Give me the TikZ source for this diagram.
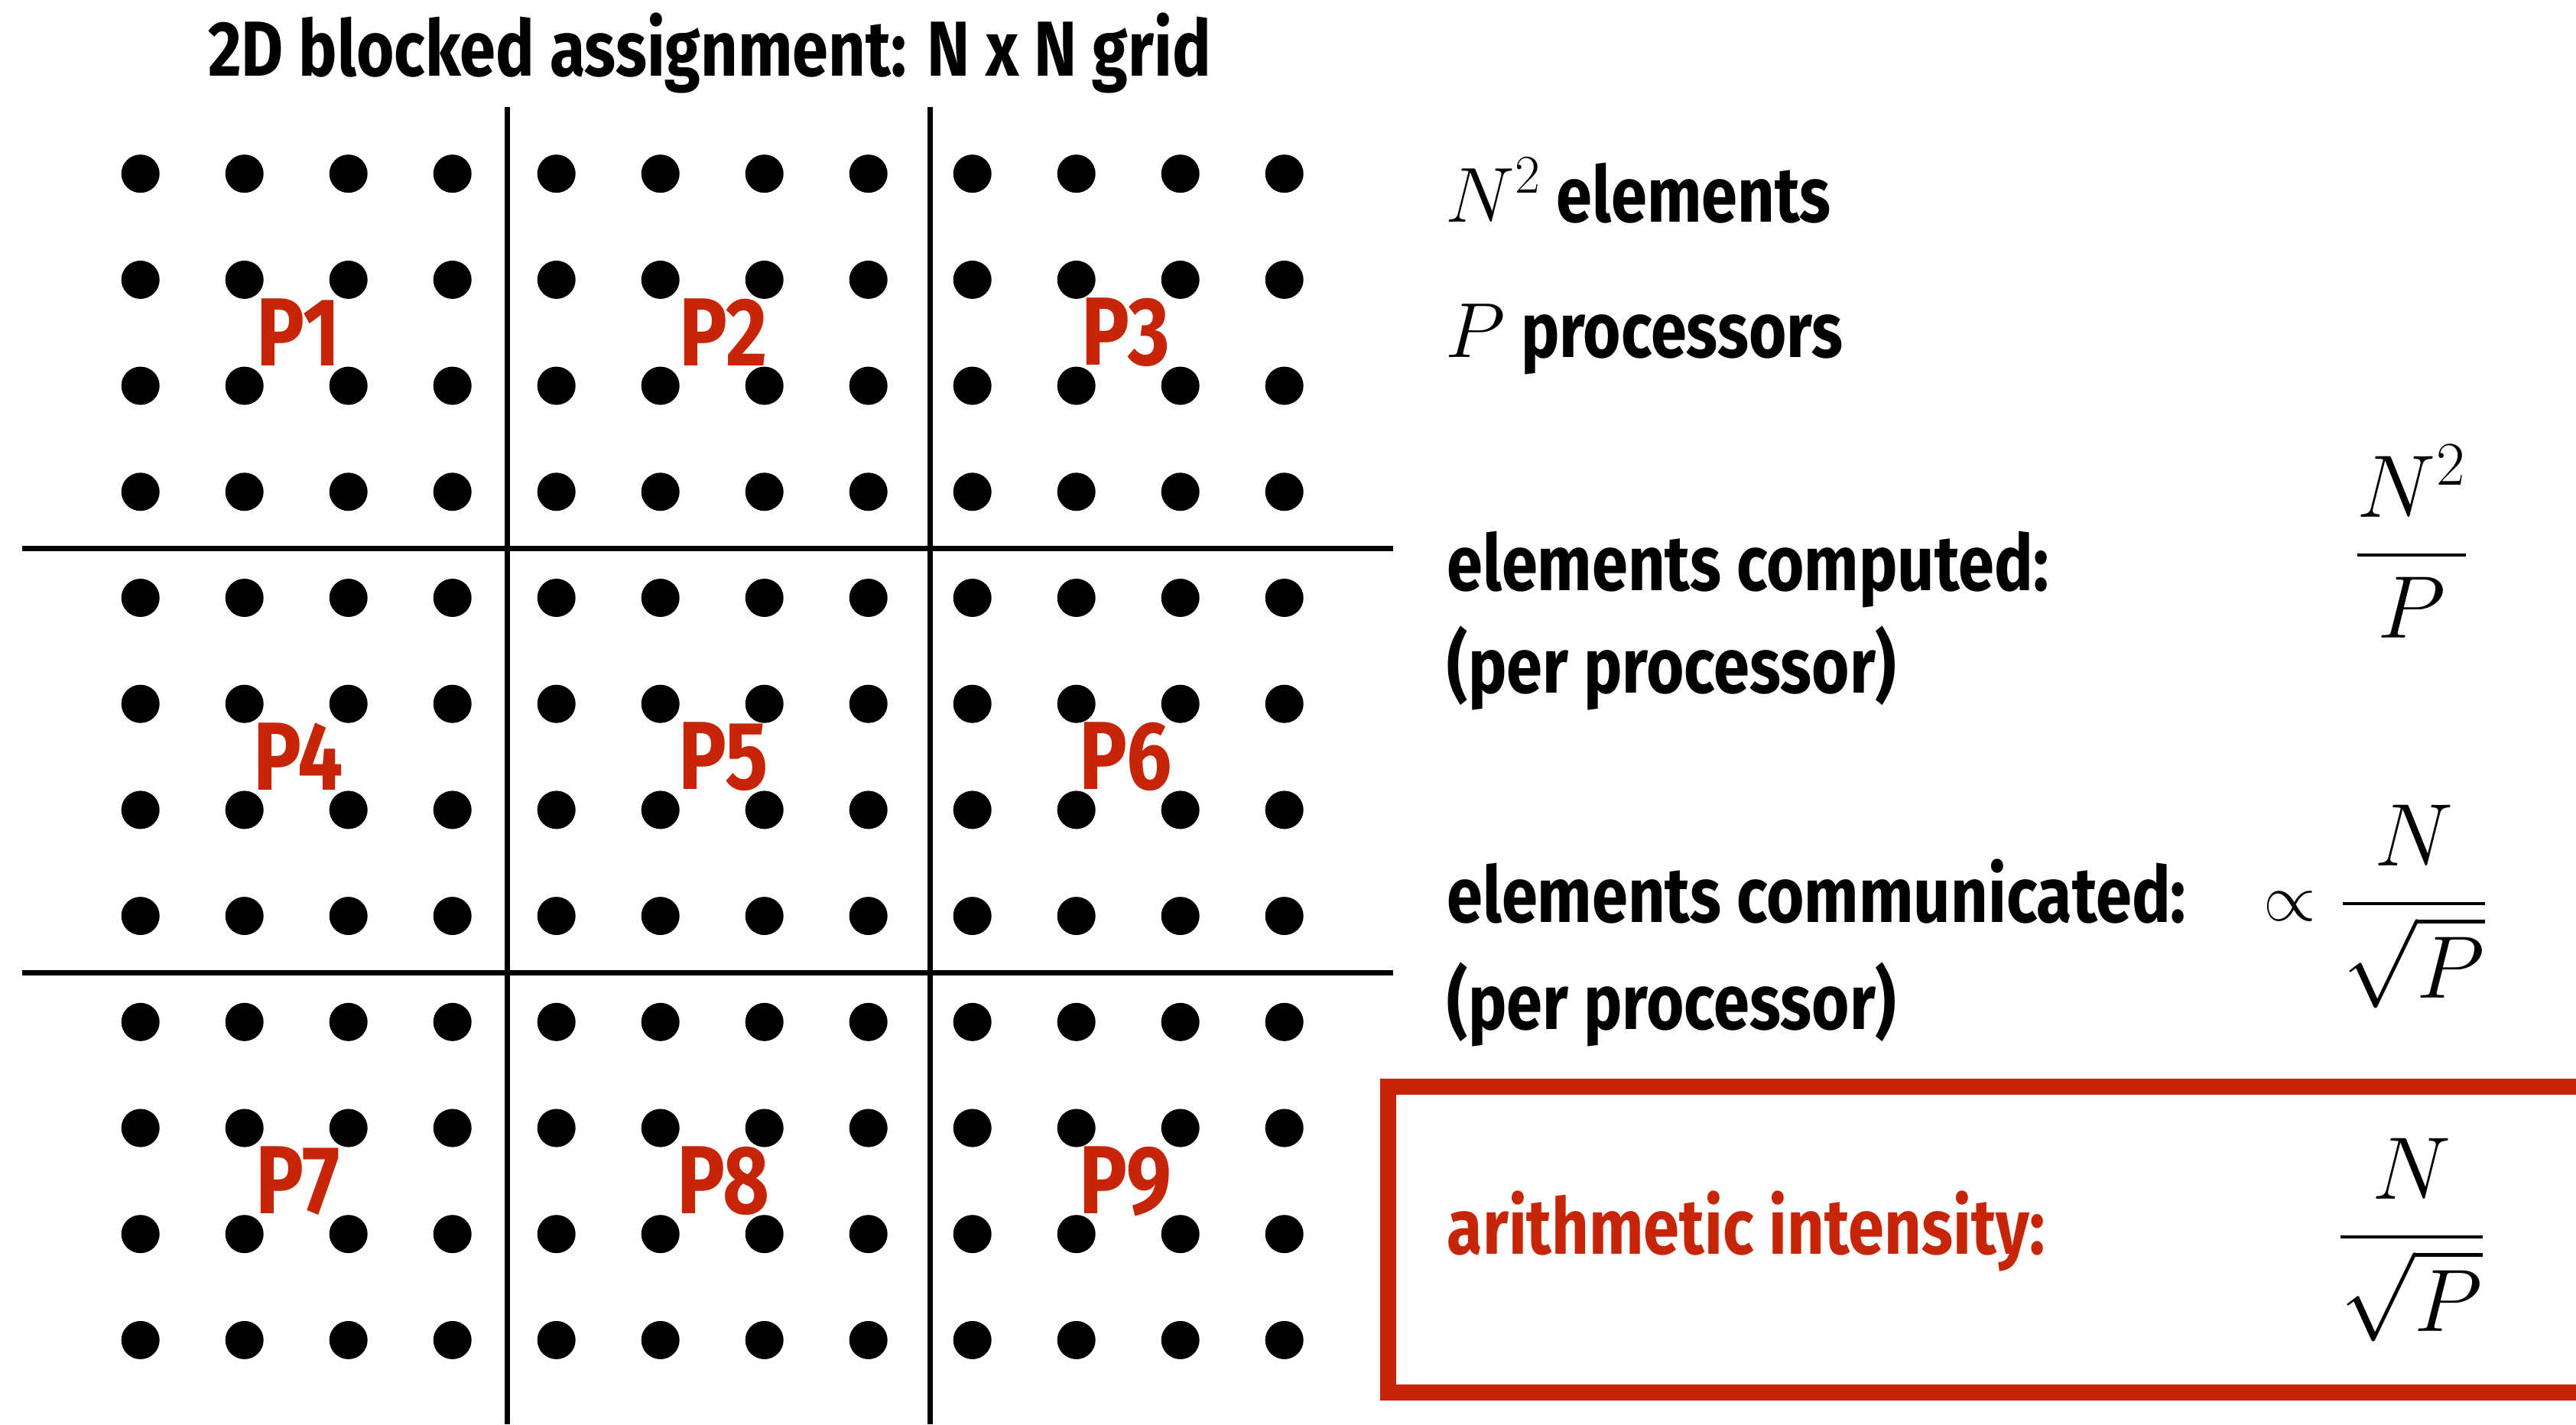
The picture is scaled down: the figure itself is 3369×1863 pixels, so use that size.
\RequirePackage{fix-cm}
\documentclass[tikz,border=0pt]{standalone}
\usepackage{amssymb,amsmath}
\usepackage[no-math]{fontspec}
\setmainfont{Fira Sans}[FakeStretch=0.83]
\usepackage{tikz}
\definecolor{slidered}{RGB}{199,37,8}

\begin{document}
\begin{tikzpicture}[x=0.01cm,y=-0.01cm,
  dot/.style={fill=black},
  rule/.style={line width=0.07cm,black},
  plabel/.style={text=slidered,font=\fontsize{36}{40}\selectfont\bfseries,inner sep=0},
  txt/.style={font=\fontsize{29}{34}\selectfont\bfseries,anchor=base west,inner sep=0},
  frac/.style={font=\fontsize{33}{40}\selectfont,anchor=base,inner sep=0}]
  \useasboundingbox (0,0) rectangle (3369,1863);
  % title
  \node[txt,anchor=base] (title) at (928,99) {2D blocked assignment: N x N grid};
  % grid points (12 x 12)
  \foreach \x in {0,...,11} {
    \foreach \y in {0,...,11} {
      \coordinate (c\x-\y) at (183.7+136*\x,227.2+138.7*\y);
      \fill[dot] (c\x-\y) circle (0.25cm);
    }
  }
  % block boundaries
  \draw[rule] (29,717) -- (1822,717);
  \draw[rule] (29,1272) -- (1822,1272);
  \draw[rule] (663,140) -- (663,1863);
  \draw[rule] (1216,140) -- (1216,1863);
  % processor labels
  \foreach \px [count=\c from 0] in {390,946,1472} {
    \foreach \r in {0,1,2} {
      \pgfmathtruncatemacro{\k}{3*\r+\c+1}
      \node[plabel] (p\k) at (\px,435+555*\r) {P\k};
    }
  }
  % right column
  \node[txt] (nelem) at (1890,290) {$N^2$ elements};
  \node[txt] (nproc) at (1890,467) {$P$ processors};
  \node[txt] (comp) at (1892,772) {elements computed:};
  \node[txt] (compper) at (1892,906) {(per processor)};
  \node[frac] (compfrac) at (3154,755) {$\dfrac{N^2}{P}$};
  \node[txt] (comm) at (1892,1206) {elements communicated:};
  \node[txt] (commper) at (1892,1346) {(per processor)};
  \node[frac] (commfrac) at (3157,1211) {$\dfrac{N}{\sqrt{P}}$};
  \node[frac,font=\fontsize{25}{30}\selectfont,anchor=base east] (prop) at (3030,1204) {$\propto$};
  % highlighted result
  \draw[line width=0.21cm,slidered] (3369,1421) -- (1815,1421) -- (1815,1821) -- (3369,1821);
  \node[txt,text=slidered] (ai) at (1892,1640) {arithmetic intensity:};
  \node[frac] (aifrac) at (3154,1647) {$\dfrac{N}{\sqrt{P}}$};
\end{tikzpicture}
\end{document}
